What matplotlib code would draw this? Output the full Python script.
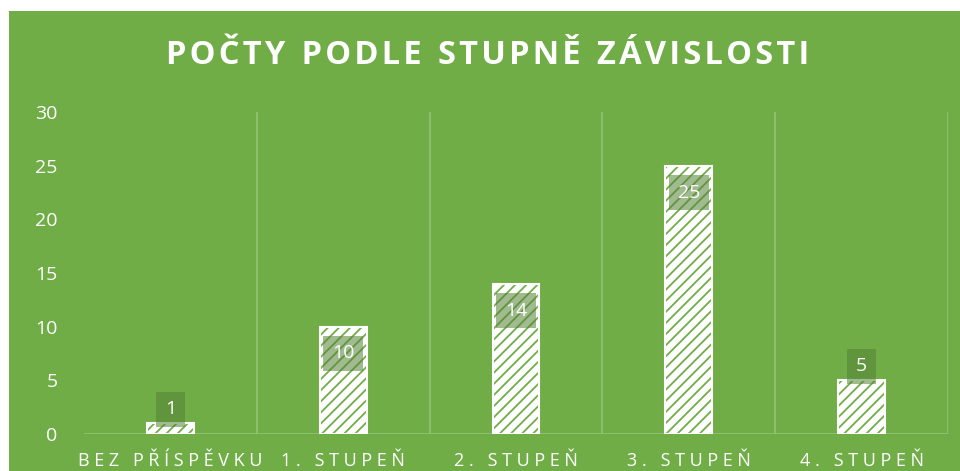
import matplotlib
matplotlib.use("Agg")
import matplotlib.pyplot as plt
from matplotlib.patches import Rectangle

# data
categories = ["BEZ PŘÍSPĚVKU", "1. STUPEŇ", "2. STUPEŇ", "3. STUPEŇ", "4. STUPEŇ"]
counts = [1, 10, 14, 25, 5]
y_ticks = [0, 5, 10, 15, 20, 25, 30]

BG = "#70AD47"
GRID = "#93C276"
LABEL_BOX = "#548235"

plt.rcParams["font.family"] = ["Open Sans", "DejaVu Sans"]
plt.rcParams["hatch.linewidth"] = 1.3

fig = plt.figure(figsize=(9.6, 4.71), dpi=100)
fig.patch.set_facecolor("white")
fig.patches.append(Rectangle((9 / 960, 0), 1 - 9 / 960, 1 - 11 / 471,
                             transform=fig.transFigure, facecolor=BG,
                             edgecolor="none", zorder=-5))

ax = fig.add_axes([84 / 960, 1 - 434 / 471, 864 / 960, (434 - 112) / 471])
ax.set_facecolor("none")

x = list(range(len(categories)))
w = 0.27
# white base, hatched overlay, white outline
ax.bar(x, counts, width=w, color="white", linewidth=0, zorder=2)
ax.bar(x, counts, width=w, facecolor="none", edgecolor=BG, linewidth=0,
       hatch="///", zorder=3)
ax.bar(x, counts, width=w, fill=False, edgecolor="white", linewidth=1.5, zorder=4)

# data labels
for xi, v in zip(x, counts):
    ypos = v - 2.5 if v >= 10 else v + 1.3
    ax.text(xi, ypos, str(v), ha="center", va="center", color="white",
            fontsize=14, zorder=5,
            bbox=dict(boxstyle="square,pad=0.45", facecolor=LABEL_BOX,
                      alpha=0.55, edgecolor="none"))

ax.set_xlim(-0.5, len(categories) - 0.5)
ax.set_ylim(0, 30)
ax.set_yticks(y_ticks)
ax.set_yticklabels([str(t) for t in y_ticks])
ax.tick_params(axis="y", length=0, pad=19, labelsize=14, labelcolor="white")

# category separators
for b in range(1, len(categories) + 1):
    ax.axvline(b - 0.5, color=GRID, linewidth=1.2, zorder=1)
ax.axhline(0, color=GRID, linewidth=1.2, zorder=1)

ax.set_xticks(x)
ax.set_xticklabels([" ".join(c) for c in categories])
ax.tick_params(axis="x", length=0, pad=13, labelsize=13, labelcolor="white")

for s in ax.spines.values():
    s.set_visible(False)

fig.text(0.508, 1 - 56 / 471, "P O Č T Y   P O D L E   S T U P N Ě   Z Á V I S L O S T I"
         .replace("   ", "\u2002").replace(" ", "\u200a"),
         ha="center", va="center", color="white", fontsize=23.5, fontweight="bold")

fig.savefig("out.png", dpi=100, facecolor=fig.get_facecolor())
